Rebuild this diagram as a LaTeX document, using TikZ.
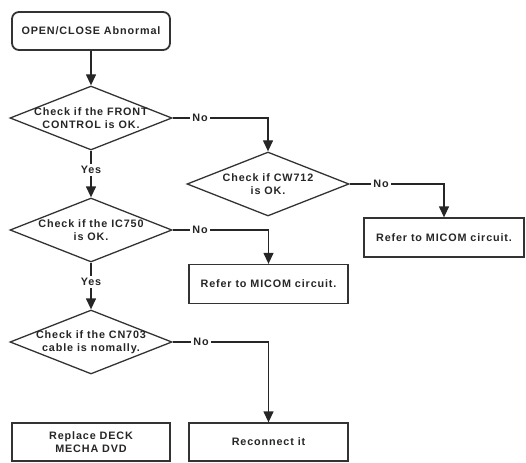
\documentclass[tikz,border=0pt]{standalone}
\usepackage{fontspec}
\setmainfont{Liberation Sans}[LetterSpace=8]
\usetikzlibrary{shapes.geometric,arrows.meta}
\tikzset{
  every node/.style={font=\fontsize{10.8}{12.5}\selectfont\bfseries, text=black!85},
  conn/.style={draw=black!85, line width=1.3pt},
  arr/.style={conn, -{Triangle[width=10pt,length=11pt]}},
  startbox/.style={draw=black!80, line width=1.8pt, rounded corners=7pt, minimum width=158pt, minimum height=38pt, inner sep=0pt},
  dia/.style={draw=black!80, line width=1.3pt, diamond, minimum width=162pt, minimum height=64pt, inner sep=0pt},
  dtext/.style={align=center, inner sep=0pt},
  plainbox/.style={draw=black!80, line width=1.3pt, minimum width=159pt, minimum height=39pt, inner sep=0pt, align=center},
  lab/.style={fill=white, inner sep=2pt}
}
\begin{document}
\begin{tikzpicture}[x=1pt,y=-1pt]
\useasboundingbox (0,0) rectangle (526,462);
\node[startbox] (s) at (91,31) {OPEN/CLOSE Abnormal};
\node[dia] (d1) at (91,118) {};
\node[dtext] (t1) at (d1) {Check if the FRONT\\CONTROL is OK.};
\node[dia] (d2) at (268,184) {};
\node[dtext] (t2) at (d2) {Check if CW712\\is OK.};
\node[dia] (d3) at (91,230) {};
\node[dtext] (t3) at (d3) {Check if the IC750\\is OK.};
\node[dia] (d4) at (91,342) {};
\node[dtext] (t4) at (d4) {Check if the CN703\\cable is nomally.};
\node[plainbox, minimum width=160pt] (r1) at (444,237.5) {Refer to MICOM circuit.};
\node[plainbox] (r2) at (268.5,284) {Refer to MICOM circuit.};
\node[plainbox, minimum height=38pt] (r3) at (268.5,442) {Reconnect it};
\node[plainbox, minimum width=158pt, minimum height=38pt] (r4) at (91,442) {Replace DECK\\MECHA DVD};

\draw[arr] (s.south) -- (d1.north);
\draw[arr] (d1.south) -- (d3.north);
\draw[arr] (d3.south) -- (d4.north);
\draw[arr] (d1.east) -| (d2.north);
\draw[arr] (d2.east) -| (r1.north);
\draw[arr] (d3.east) -| (r2.north);
\draw[arr] (d4.east) -| (r3.north);

\node[lab] (y1) at (91,170) {Yes};
\node[lab] (y2) at (91,282) {Yes};
\node[lab] (n1) at (200,118) {No};
\node[lab] (n2) at (381,184) {No};
\node[lab] (n3) at (200,230) {No};
\node[lab] (n4) at (201,342) {No};
\end{tikzpicture}
\end{document}
